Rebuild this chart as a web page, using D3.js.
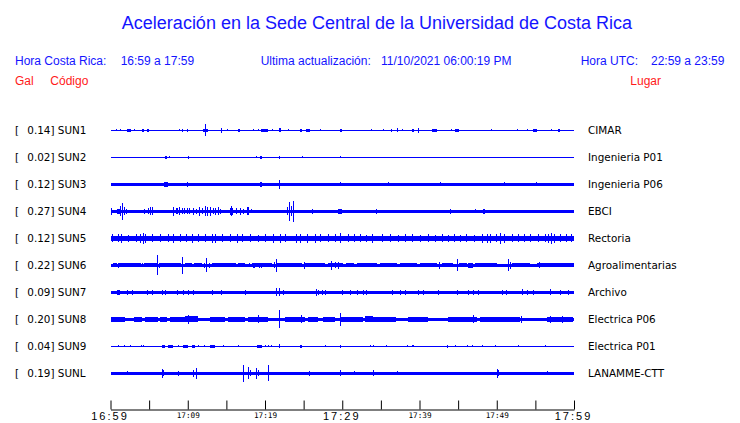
<!DOCTYPE html>
<html><head><meta charset="utf-8">
<script src="https://cdn.jsdelivr.net/npm/d3@7"></script>
<style>body{margin:0;background:#fff}svg{display:block}</style>
</head><body><svg id="c" width="740" height="423"></svg>
<script>
// ---------- data ----------
const codes  = ["SUN1","SUN2","SUN3","SUN4","SUN5","SUN6","SUN7","SUN8","SUN9","SUNL"];
const places = ["CIMAR","Ingenieria P01","Ingenieria P06","EBCI","Rectoria","Agroalimentarias","Archivo","Electrica P06","Electrica P01","LANAMME-CTT"];
const peaks  = ["0.14","0.02","0.12","0.27","0.12","0.22","0.09","0.20","0.04","0.19"];
// background noise half-amplitude of each trace
const noise  = [0.5,0.5,1.5,1.6,2.8,1.4,1.5,1.7,0.5,1.6];
// events: [start minute after 16:59, half amplitude, duration in minutes]
const sun1 = [[0.71,1,0],[1.23,1,0],[2.17,1.3,0.48],[3.04,1,0],[4.12,1.3,0.22],[4.69,1.3,0.26],[8.87,0.9,0],[9.22,1.2,0],[9.86,1.5,0],[11.97,1.3,0.65],[12.27,6,0],[14.34,2.3,0],[15.08,1,0],[16.5,1.3,0.26],[18.49,0.9,0],[19.13,1,0],[19.48,1.7,0.87],[20.87,1,0],[21.81,2,0.26],[22.94,0.9,0],[24.53,1.3,0.3],[25.27,1.3,0.6],[27.16,0.9,0],[29.71,1.3,0.22],[33.72,0.9,0],[35.31,1,0],[36.31,1.3,0],[37.05,2,0],[37.74,1,0],[38.99,1.3,0.3],[39.84,2.3,0],[41.66,1.3,0.57],[44.12,0.9,0],[44.59,1.3,0.48],[49.26,0.9,0],[52.58,0.9,0],[53.96,0.9,0],[54.74,1.3,0.44],[56.98,0.9,0],[57.89,1.3,0.3]];
const sun2 = [[7.05,1.5,0.26],[7.61,0.9,0],[9.99,1.5,0],[18.8,0.9,0],[19.29,1.5,0.3],[21.85,1.3,0],[24.75,0.9,0],[29.71,0.9,0]];
const sun3 = [[6.99,2.5,0.39],[9.86,2.3,0],[19.33,2.5,0.22],[21.85,4.7,0],[29.71,2,0],[35.96,2,0],[42.65,2,0],[50.98,2,0],[55.04,2,0]];
const sun4 = [[0.06,3.2,0],[0.8,2.5,0.43],[1.23,5,0],[1.45,8.5,0],[1.79,4,0],[1.97,2.5,0],[4.34,2.5,0],[4.89,3,0],[5.11,4,0],[5.41,4,0],[8.05,4.5,0],[8.5,3,0.2],[8.87,4,0],[9.22,3,0],[9.55,3,0],[9.86,3,0],[10.16,3,0],[10.68,3.5,0],[11.03,2.5,0],[11.5,4.5,0],[11.88,3,0],[12.23,5,0],[12.53,4.5,0],[12.92,4.5,0],[13.23,3,0],[13.53,3.5,0],[13.96,4,0],[14.17,2.5,0],[15.47,3.5,0.43],[15.6,5,0],[16.25,3,0],[16.76,3.5,0],[17.19,2.5,0],[17.63,4,0.3],[18.15,2,0],[22.81,4,0],[23.15,9.5,0],[23.37,5,0],[23.66,10.5,0],[26.05,2.5,0],[29.5,2.5,0.5],[34.37,2.5,0],[43.95,2.5,0],[47.19,2,0],[48.2,2.5,0.3]];
const sun5 = [[0.19,4,0.15],[0.97,4,0.15],[1.36,4.2,0.15],[2.27,3.8,0.15],[3.3,4,0.15],[3.82,4.5,0.15],[4.17,5.5,0.15],[4.47,4.5,0.15],[5.37,4,0.15],[6.41,4,0.15],[7.44,4,0.15],[8.13,4.5,0.15],[9.0,4,0.15],[9.77,4,0.15],[10.51,4.2,0.15],[11.33,4,0.15],[12.23,4,0.15],[13.14,4.2,0.15],[13.53,4.5,0.15],[14.43,4,0.15],[15.47,4,0.15],[16.38,4.2,0.15],[17.02,4,0.15],[18.06,4,0.15],[19.09,3.8,0.15],[20.0,4,0.15],[21.03,4.2,0.15],[21.94,4.2,0.15],[22.59,4,0.15],[24.01,4.5,0.15],[24.53,4.2,0.15],[25.44,4.5,0.15],[26.47,4.5,0.15],[27.12,4,0.15],[28.16,4,0.15],[29.06,4,0.15],[29.71,5,0.15],[30.74,4,0.15],[31.52,4,0.15],[32.3,4,0.15],[33.07,3.8,0.15],[33.85,4.2,0.15],[35.15,4,0.15],[36.18,4,0.15],[37.22,3.8,0.15],[38.12,4,0.15],[39.03,4,0.15],[40.06,3.8,0.15],[41.1,4,0.15],[42.01,3.8,0.15],[42.91,4,0.15],[43.69,3.8,0.15],[44.47,4,0.15],[45.24,3.8,0.15],[46.02,4,0.15],[47.06,3.8,0.15],[48.09,4.2,0.15],[48.74,4.5,0.15],[49.13,4.2,0.15],[49.9,4,0.15],[50.42,5.5,0.15],[50.94,4.2,0.15],[51.97,4,0.15],[52.75,4,0.15],[53.53,4,0.15],[54.31,4,0.15],[55.34,4,0.15],[56.25,4,0.15],[56.63,4.5,0.15],[57.02,5.2,0.15],[57.41,4.5,0.15],[58.19,4,0.15],[58.97,4,0.15],[59.61,4,0.15]];
const sun6 = [[0.36,2.2,0.43],[1.01,2.2,3.0],[4.38,2.2,1.6],[6.41,2.2,2.7],[9.64,2.2,0.95],[10.85,2.2,0.95],[13.1,2.2,3.1],[16.47,2.2,0.95],[18.28,2.2,2.59],[21.51,2.2,3.24],[25.18,2.2,2.59],[28.2,2.2,1.5],[29.7,2.2,0.45],[30.5,2.2,1.0],[31.87,2.2,2.59],[34.89,2.2,2.16],[37.48,2.2,2.16],[40.06,2.2,2.16],[42.87,2.2,1.5],[45.15,2.2,0.95],[46.32,2.7,0.65],[47.19,2.2,2.8],[51.94,2.2,2.37],[55.17,2.2,4.83],[0.93,2.3,0],[1.66,2,0],[4.12,2,0],[6.06,10,0],[6.32,2.5,0],[9.29,8.5,0],[12.1,2.5,0],[12.4,7,0],[12.75,2.5,0],[17.93,2,0],[18.46,2.5,0.2],[19.22,2.5,0],[19.48,2.5,0],[21.2,3,0],[21.38,6.7,0],[25.09,3.5,0],[28.55,4.5,0],[29.06,3,0],[29.41,3.5,0],[42.56,3.7,0],[44.89,6.2,0],[51.5,6,0],[51.71,3.5,0],[55.51,3,0]];
const sun7 = [[0.8,2.5,0.43],[2.1,2.3,0],[2.74,2.3,0],[4.69,2.3,0],[5.33,2.3,0],[6.71,2.3,0],[7.06,2.3,0],[8.57,2.3,0],[9.43,2.3,0],[9.99,2.3,0],[10.72,2.3,0],[13.18,2.3,0],[14.3,2.3,0],[17.41,2.3,0],[21.38,4.2,0],[21.81,4,0],[22.37,2.3,0],[26.56,3.5,0],[26.9,2.5,0],[27.34,2.5,0],[27.77,2.5,0],[29.93,2.3,0],[31.0,2.3,0],[31.95,2.3,0],[32.65,2.3,0],[33.04,2.3,0],[36.4,2.3,0],[37.48,2.3,0],[38.12,2.3,0],[39.84,2.3,0],[40.49,2.3,0],[42.43,2.3,0],[44.81,2.3,0],[46.32,2.3,0],[46.97,2.3,0],[47.61,2.3,0],[50.64,2.3,0],[51.2,2.3,0],[53.23,3,0],[53.96,2.3,0],[54.73,2.3,0],[56.89,3,0],[58.19,2.3,0],[59.26,2.3,0]];
const sun8 = [[0,2.4,1.9],[3.08,2.4,0.95],[4.47,2.4,1.72],[6.41,2.4,0.87],[7.7,2.4,1.94],[9.64,2.8,1.72],[10.07,4.5,0],[12.88,2.4,1.94],[15.25,2.4,2.16],[17.84,2.4,2.59],[19.13,4,0],[21.85,9,0],[22.59,2.4,2.59],[24.66,4,0],[25.6,2.4,1.3],[27.55,2.4,1.5],[29.75,6.3,0],[29.71,2.4,3.0],[32.94,3,1.08],[34.02,2.4,3.0],[38.55,2.4,2.59],[43.73,2.4,3.67],[46.89,4,0],[47.83,2.4,5.18],[53.2,3.5,0],[56.47,2.4,3.45],[56.9,3.5,0],[58.4,3.5,0]];
const sun9 = [[0.93,1.2,0],[1.79,1.2,0],[2.52,1.2,0],[3.95,1.2,0],[4.25,1.2,0],[6.63,1.5,0.43],[7.48,1.5,0.65],[8.78,1.2,0],[9.43,1.5,0.56],[10.59,1.5,0.35],[11.37,1.2,0],[12.06,1.2,0],[12.88,1.5,0.65],[14.6,1.2,0],[16.55,1.2,0],[18.93,1.5,0.74],[20.0,1.2,0],[20.43,1.2,0],[20.74,1.2,0],[21.81,2,0],[24.53,1.5,0.3],[27.77,1.2,0],[29.71,1.5,0],[33.59,1.2,0],[34.02,1.2,0],[35.66,1.2,0],[38.34,1.2,0],[38.99,1.2,0],[39.2,1.2,0],[43.52,1.5,0],[44.6,1.2,0],[46.11,1.2,0],[46.84,1.2,0],[48.05,1.2,0],[49.77,1.2,0],[52.79,1.2,0],[56.25,1.2,0]];
const sunL = [[2.1,2,0],[6.63,4.7,0],[6.76,3,0],[8.78,2.5,0],[10.72,3.5,0],[11.03,5.7,0],[17.19,8.3,0],[17.76,5.8,0],[18.06,3,0],[18.8,5.3,0],[19.05,3,0],[20.43,8.2,0],[25.7,2.5,0],[29.75,3,0],[31.52,2,0],[34.02,3,0],[37.05,2,0],[50.07,4.3,0],[50.2,3,0],[56.48,2,0]];
const events = [sun1,sun2,sun3,sun4,sun5,sun6,sun7,sun8,sun9,sunL];

const tickMinutes = [0,5,10,15,20,25,30,35,40,45,50,55,60];
const labelMinutes = [0,10,20,30,40,50,60];
const tickLabels = ["16:59","17:09","17:19","17:29","17:39","17:49","17:59"];
const majorLabels = ["16:59","17:29","17:59"];

// ---------- drawing ----------
const svg = d3.select("#c");
const blue = "#1414ff", red = "#ff1a1a", trace = "#0000ff";
const sans = "'Liberation Sans', Arial, sans-serif";
const dv = "'DejaVu Sans', sans-serif";

const x = d3.scaleLinear().domain([0,60]).range([110.5,574]);
const y = d3.scalePoint().domain(codes).range([130.3,373.3]);
const a = d3.scaleLinear().domain([0,10]).range([0,10]);

svg.append("text").attr("x",377).attr("y",28.5).attr("text-anchor","middle")
  .attr("font-family",sans).attr("font-size",18).attr("fill",blue)
  .text("Aceleración en la Sede Central de la Universidad de Costa Rica");

const header = [
  ["Hora Costa Rica:",15,65,blue],["16:59 a 17:59",120.7,65,blue],
  ["Ultima actualización:",260.7,65,blue],["11/10/2021 06:00:19 PM",381,65,blue],
  ["Hora UTC:",580.7,65,blue],["22:59 a 23:59",651,65,blue],
  ["Gal",15,85,red],["Código",50.3,85,red],["Lugar",630.3,85,red]];
svg.append("g").selectAll("text").data(header).join("text")
  .attr("x",d=>d[1]).attr("y",d=>d[2]).attr("fill",d=>d[3])
  .attr("font-family",sans).attr("font-size",12).text(d=>d[0]);

const rows = svg.append("g").selectAll("g").data(codes).join("g")
  .attr("transform",d=>`translate(0,${y(d)})`);

rows.append("text").attr("x",15).attr("y",4).attr("font-family",dv).attr("font-size",10.4).text("[");
rows.append("text").attr("x",27.3).attr("y",4).attr("font-family",dv).attr("font-size",10.4)
  .text((d,i)=>`${peaks[i]}] ${d}`);
rows.append("text").attr("x",588).attr("y",4).attr("font-family",dv).attr("font-size",10.4)
  .text((d,i)=>places[i]);

rows.append("rect").attr("x",x(0)).attr("width",x(60)-x(0))
  .attr("y",(d,i)=>-a(noise[i])).attr("height",(d,i)=>2*a(noise[i]))
  .attr("fill",trace).attr("shape-rendering","crispEdges");

rows.each(function(d,i){
  d3.select(this).selectAll("rect.ev").data(events[i]).join("rect").attr("class","ev")
    .attr("x",e=>x(e[0])).attr("width",e=>Math.max(1,x(e[0]+e[2])-x(e[0])))
    .attr("y",e=>-a(e[1])).attr("height",e=>2*a(e[1]))
    .attr("fill",trace).attr("shape-rendering","crispEdges");
});

const axis = d3.axisBottom(x).tickValues(tickMinutes).tickSizeInner(-9).tickSizeOuter(0)
  .tickFormat(m=>{const k=labelMinutes.indexOf(m);return k<0?"":tickLabels[k];});
const ax = svg.append("g").attr("transform","translate(0,409.5)").call(axis);
ax.select(".domain").attr("stroke","#000");
ax.selectAll(".tick line").attr("stroke","#000");
ax.selectAll(".tick text").attr("fill","#000").attr("dy",0)
  .each(function(){
    const big = majorLabels.includes(this.textContent);
    const t = d3.select(this).attr("y", big?10:8);
    if (big) {
      t.attr("font-family",sans).attr("font-size",11)
       .attr("letter-spacing",2).attr("dx",-1);
    } else {
      t.attr("font-family","'DejaVu Sans Mono', monospace").attr("font-size",7.7);
    }
  });
</script></body></html>
